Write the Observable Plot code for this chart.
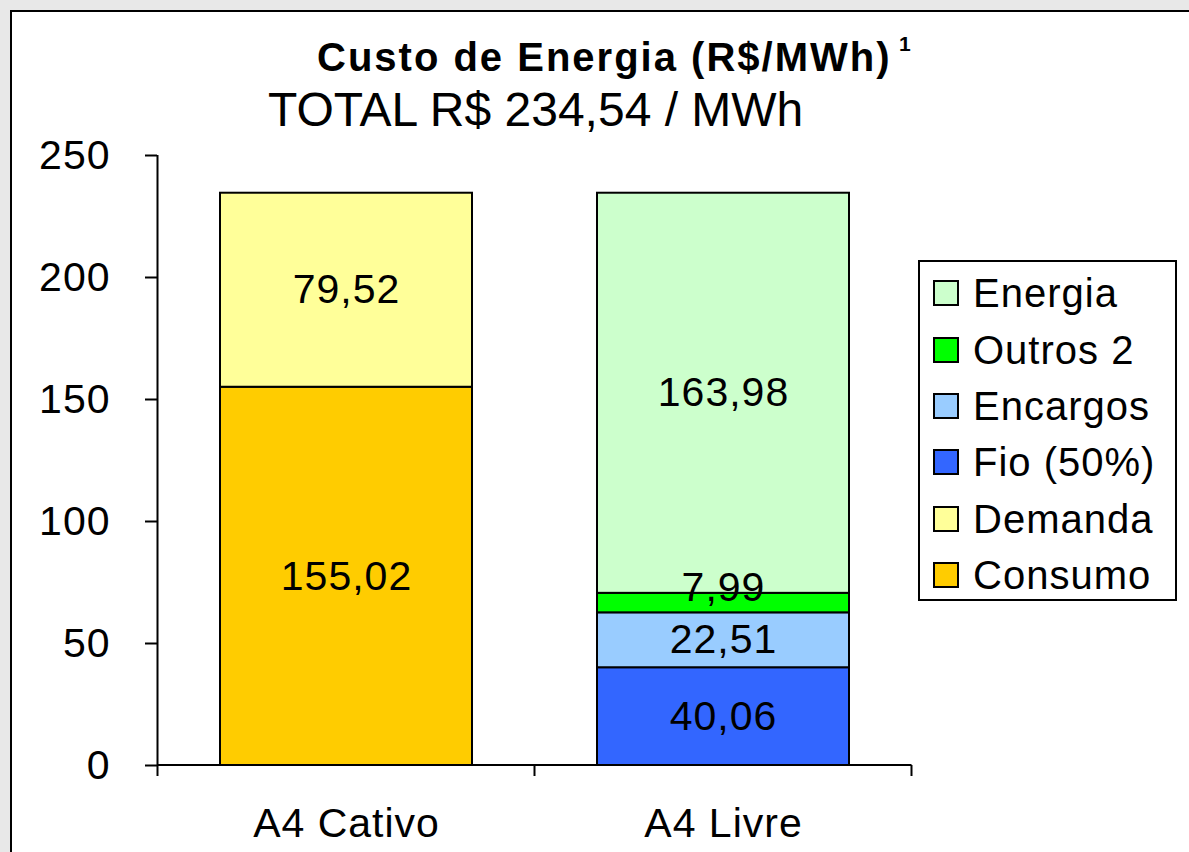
<!DOCTYPE html>
<html>
<head>
<meta charset="utf-8">
<script src="https://cdn.jsdelivr.net/npm/d3@7"></script>
<script src="https://cdn.jsdelivr.net/npm/@observablehq/plot@0.6"></script>
<style>
  html, body { margin: 0; padding: 0; background: #e8e8e8; }
  #page { position: relative; width: 1189px; height: 852px; overflow: hidden; font-family: "Liberation Sans", Arial, sans-serif; }
  #box { position: absolute; left: 10px; top: 10px; width: 1300px; height: 1000px; background: #fff; border: 2px solid #000; }
  .title { position: absolute; left: 317px; top: 37px; font-size: 40px; line-height: 1; font-weight: bold; letter-spacing: 2px; white-space: nowrap; color: #000; }
  .sup { position: absolute; left: 899px; top: 33px; font-size: 21px; line-height: 1; font-weight: bold; color: #000; }
  .subtitle { position: absolute; left: 268px; top: 86px; font-size: 48px; line-height: 1; white-space: nowrap; color: #000; }
  #chart { position: absolute; left: 0; top: 0; }
  #legend { position: absolute; left: 918px; top: 260px; width: 255px; height: 334px; background: #fff; border: 2px solid #000; padding-top: 3px; box-sizing: content-box; }
  .row { display: flex; align-items: center; height: 56.4px; }
  .sw { width: 22px; height: 22px; border: 2px solid #000; margin-left: 13px; margin-right: 14px; flex: none; }
  .lab { font-size: 40px; letter-spacing: 1px; line-height: 1; white-space: nowrap; }
</style>
</head>
<body>
<div id="page">
  <div id="box"></div>
  <div class="title">Custo de Energia (R$/MWh)</div>
  <div class="sup">1</div>
  <div class="subtitle">TOTAL R$ 234,54 / MWh</div>
  <div id="chart"></div>
  <div id="legend"></div>
</div>
<script>
// ---- data ----
const categories = ["A4 Cativo", "A4 Livre"];
const seriesNames = ["Consumo", "Demanda", "Fio (50%)", "Encargos", "Outros 2", "Energia"];
const seriesColors = ["#FFCC00", "#FFFF99", "#3366FF", "#99CCFF", "#00FF00", "#CCFFCC"];
const cativoValues = [155.02, 79.52, 0, 0, 0, 0];
const livreValues = [0, 0, 40.06, 22.51, 7.99, 163.98];
const yTicks = [0, 50, 100, 150, 200, 250];

const rows = [];
[cativoValues, livreValues].forEach((vals, ci) => {
  vals.forEach((v, si) => {
    if (v > 0) rows.push({cat: categories[ci], series: seriesNames[si], value: v});
  });
});
const fmt = v => v.toFixed(2).replace(".", ",");

function categoryFrame(index, scales) {
  const {x, y} = scales;
  const step = x.step(), bw = x.bandwidth();
  const edges = categories.map(c => x(c) - (step - bw) / 2);
  edges.push(x(categories[categories.length - 1]) + bw + (step - bw) / 2);
  const y0 = y(0), yTop = y(d3.max(yTicks));
  const g = d3.create("svg:g").attr("stroke", "#000").attr("stroke-width", 2).attr("fill", "none");
  g.append("line").attr("x1", edges[0]).attr("x2", edges[0]).attr("y1", yTop).attr("y2", y0);
  g.append("line").attr("x1", edges[0]).attr("x2", edges[edges.length - 1]).attr("y1", y0).attr("y2", y0);
  for (const e of edges) g.append("line").attr("x1", e).attr("x2", e).attr("y1", y0).attr("y2", y0 + 11);
  return g.node();
}

const chart = Plot.plot({
  width: 1189,
  height: 852,
  marginLeft: 157,
  marginRight: 277,
  marginTop: 155,
  marginBottom: 87,
  style: {fontFamily: "'Liberation Sans', Arial, sans-serif", fontSize: "41px", letterSpacing: "1px", background: "transparent", color: "#000", overflow: "visible"},
  x: {domain: categories, paddingInner: 0.332, paddingOuter: 0.166, label: null},
  y: {domain: [0, 250], label: null},
  color: {domain: seriesNames, range: seriesColors},
  marks: [
    Plot.barY(rows, Plot.stackY({x: "cat", y: "value", fill: "series", order: seriesNames, stroke: "#000", strokeWidth: 2})),
    Plot.text(rows, Plot.stackY({x: "cat", y: "value", z: "series", order: seriesNames, text: d => d.value >= 10 ? fmt(d.value) : null, fill: "#000"})),
    Plot.text(rows, Plot.stackY({x: "cat", y: "value", z: "series", order: seriesNames, text: d => d.value < 10 ? fmt(d.value) : null, fill: "#000", dy: -15})),
    Plot.axisY({ticks: yTicks, tickSize: 12, tickPadding: 35, strokeWidth: 2, tickFormat: d => String(d), label: null}),
    Plot.axisX({tickSize: 0, tickPadding: 42, label: null}),
    categoryFrame
  ]
});
document.getElementById("chart").appendChild(chart);

// legend (top to bottom = reverse stack order)
const legend = d3.select("#legend");
seriesNames.map((s, i) => ({s, c: seriesColors[i]})).reverse().forEach(({s, c}) => {
  const r = legend.append("div").attr("class", "row");
  r.append("div").attr("class", "sw").style("background", c);
  r.append("div").attr("class", "lab").text(s);
});
</script>
</body>
</html>
